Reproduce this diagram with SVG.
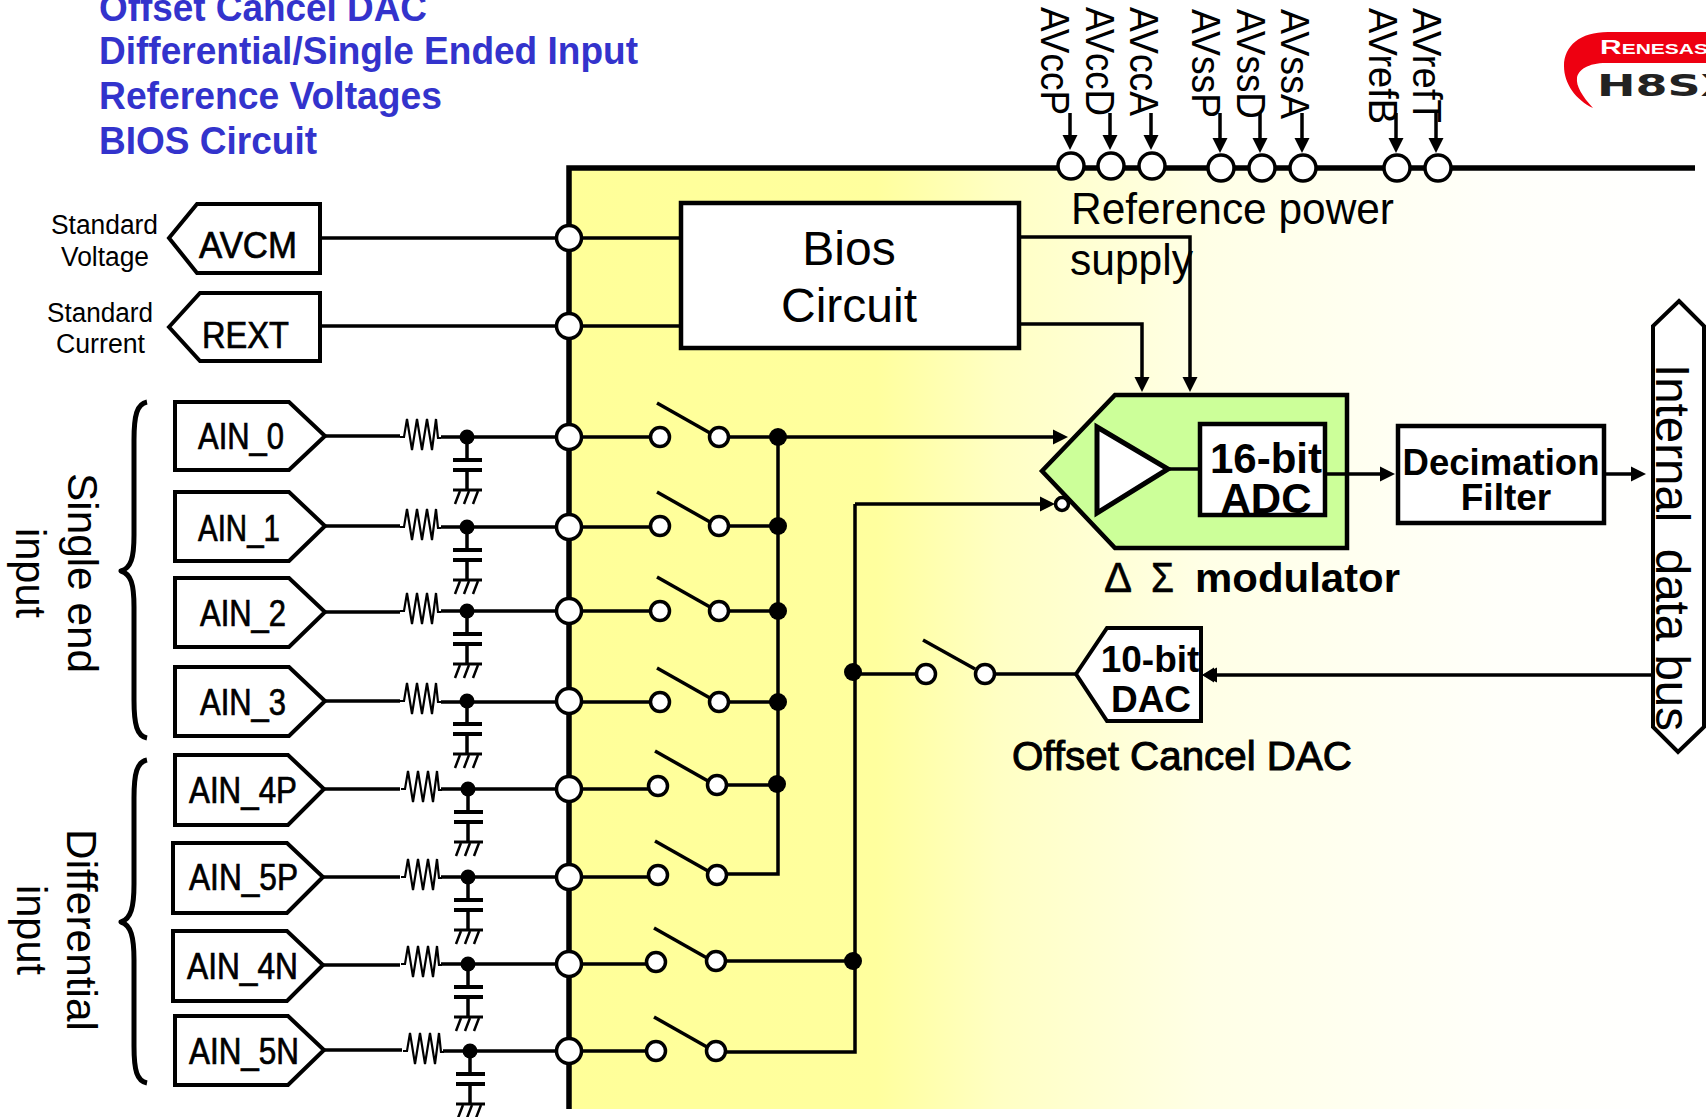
<svg xmlns="http://www.w3.org/2000/svg" width="1706" height="1117" viewBox="0 0 1706 1117">
<style>
text{font-family:"Liberation Sans",Arial,sans-serif;fill:#000}
.w{fill:none;stroke:#000;stroke-width:3.5}
.bus{fill:none;stroke:#000;stroke-width:5.5}
.arr{marker-end:url(#ah)}
.box{fill:#fff;stroke:#000;stroke-width:4.5}
.pad{fill:#fff;stroke:#000;stroke-width:4}
.c{fill:#fff;stroke:#000;stroke-width:3.5}
.dot{fill:#000}
.tag{font-size:36px;stroke:#000;stroke-width:.7}
.blue{font-size:39px;font-weight:bold;fill:#3333cc}
.b{font-weight:bold}
.pin{font-size:40px}
.side{font-size:43px}
.small{font-size:27px}
.mid{text-anchor:middle}
.brace{fill:none;stroke:#000;stroke-width:5;stroke-linejoin:round;stroke-linecap:butt}
</style>
<defs>
<linearGradient id="bg" gradientUnits="userSpaceOnUse" x1="569" y1="0" x2="1706" y2="0">
<stop offset="0" stop-color="#ffff99"/><stop offset=".27" stop-color="#ffff9e"/><stop offset=".38" stop-color="#ffffc4"/><stop offset=".56" stop-color="#ffffe6"/><stop offset=".82" stop-color="#fffffa"/><stop offset="1" stop-color="#ffffff"/>
</linearGradient>
<marker id="ah" markerUnits="userSpaceOnUse" markerWidth="16" markerHeight="16" refX="7" refY="8" orient="auto"><path d="M0 0.5L15 8L0 15.5Z"/></marker>
<g id="rc">
<path d="M400 0L404 0L407 -18L412 13L417 -18L422 13L427 -18L432 13L436 -18L438 1L441 1" fill="none" stroke="#000" stroke-width="2.2"/>
<path d="M467 0V23M467 33V53" class="w"/>
<path d="M453 23H482M453 33H482" fill="none" stroke="#000" stroke-width="4"/>
<path d="M453 53H482" fill="none" stroke="#000" stroke-width="3"/>
<path d="M460 54L455 67M469 54L464 67M478 54L473 67" fill="none" stroke="#000" stroke-width="2.5"/>
<circle cx="467" cy="0" r="7.5" class="dot"/>
</g>
<g id="sw">
<path d="M657 -34L710 -4" class="w"/>
</g>
</defs>

<g id="background">
<rect x="569" y="168" width="1137" height="941" fill="url(#bg)"/>
</g>

<g id="connectors">
<path class="bus" d="M569 1109V168H1695"/>
<path class="w" d="M320 238H681M320 326H681"/>
<path class="w" d="M325 436H400M441 437H660M325 526H400M441 527H660M325 612H400M441 611H660M325 701H400M441 702H660M324 789H400M441 789H658M323 877H400M441 877H658M323 965H400M441 964H656M325 1050H402M443 1051H656"/>
<path class="w" d="M719 437H778M719 526H778M719 611H778M719 702H778M717 785H778M717 874H778V437"/>
<path class="w" d="M716 961H855M716 1052H855V504"/>
<path class="w arr" d="M778 437H1060"/>
<path class="w arr" d="M855 504H1047"/>
<path class="w" d="M855 674H926M985 674H1076"/>
<path class="w arr" d="M1653 675H1210"/>
<path class="w arr" d="M1604 474H1638"/>
<path class="w arr" d="M1019 324H1142V384"/>
<path class="w arr" d="M1019 237H1190V384"/>
<path class="w arr" d="M1070 113V142"/>
<path class="w arr" d="M1110 113V142"/>
<path class="w arr" d="M1151 113V142"/>
<path class="w arr" d="M1220 113V145"/>
<path class="w arr" d="M1260 113V145"/>
<path class="w arr" d="M1302 113V145"/>
<path class="w arr" d="M1396 113V145"/>
<path class="w arr" d="M1436 113V145"/>
</g>

<g id="heading">
<text class="blue" x="99" y="21" textLength="328" lengthAdjust="spacingAndGlyphs">Offset Cancel DAC</text>
<text class="blue" x="99" y="64" textLength="539" lengthAdjust="spacingAndGlyphs">Differential/Single Ended Input</text>
<text class="blue" x="99" y="109" textLength="343" lengthAdjust="spacingAndGlyphs">Reference Voltages</text>
<text class="blue" x="99" y="154" textLength="218" lengthAdjust="spacingAndGlyphs">BIOS Circuit</text>
</g>

<g id="logo">
<path d="M1706 32H1608C1580 32 1564 46 1564 66C1564 84 1576 100 1593 108C1582 96 1576 86 1577 78C1578 70 1588 63 1606 63H1706Z" fill="#ee0011"/>
<text transform="translate(1600 54) scale(1.5 1)" font-size="14" font-weight="bold" style="fill:#fff"><tspan font-size="20">R</tspan>ENESAS</text>
<text x="1597" y="96" textLength="139" lengthAdjust="spacingAndGlyphs" font-size="30" font-weight="bold" style="font-family:'DejaVu Sans',sans-serif;fill:#222">H8SX</text>
</g>

<g id="pin-labels">
<text class="pin" transform="translate(1041 7) rotate(90)" textLength="108" lengthAdjust="spacingAndGlyphs">AVccP</text>
<text class="pin" transform="translate(1086 7) rotate(90)" textLength="109" lengthAdjust="spacingAndGlyphs">AVccD</text>
<text class="pin" transform="translate(1130 7) rotate(90)" textLength="109" lengthAdjust="spacingAndGlyphs">AVccA</text>
<text class="pin" transform="translate(1192 9) rotate(90)" textLength="109" lengthAdjust="spacingAndGlyphs">AVssP</text>
<text class="pin" transform="translate(1237 9) rotate(90)" textLength="110" lengthAdjust="spacingAndGlyphs">AVssD</text>
<text class="pin" transform="translate(1281 9) rotate(90)" textLength="110" lengthAdjust="spacingAndGlyphs">AVssA</text>
<text class="pin" transform="translate(1369 8) rotate(90)" textLength="116" lengthAdjust="spacingAndGlyphs">AVrefB</text>
<text class="pin" transform="translate(1413 8) rotate(90)" textLength="115" lengthAdjust="spacingAndGlyphs">AVrefT</text>
</g>

<g id="power-pins">
<circle class="c" cx="1071" cy="166" r="13"/><circle class="c" cx="1111" cy="166" r="13"/><circle class="c" cx="1152" cy="166" r="13"/>
<circle class="c" cx="1221" cy="168" r="13"/><circle class="c" cx="1262" cy="168" r="13"/><circle class="c" cx="1303" cy="168" r="13"/>
<circle class="c" cx="1397" cy="168" r="13"/><circle class="c" cx="1438" cy="168" r="13"/>
</g>

<g id="reference-power">
<text x="1071" y="224" font-size="44" textLength="323" lengthAdjust="spacingAndGlyphs">Reference power</text>
<text x="1070" y="275" font-size="44" textLength="123" lengthAdjust="spacingAndGlyphs">supply</text>
</g>

<g id="avcm">
<path class="pad" d="M169 238L197 204H320V273H197Z"/>
<text class="tag" x="199" y="258" textLength="98" lengthAdjust="spacingAndGlyphs">AVCM</text>
<text class="small" x="51" y="234" textLength="107" lengthAdjust="spacingAndGlyphs">Standard</text>
<text class="small" x="61" y="266" textLength="88" lengthAdjust="spacingAndGlyphs">Voltage</text>
</g>
<g id="rext">
<path class="pad" d="M169 327L200 293H320V361H200Z"/>
<text class="tag" x="202" y="348" textLength="87" lengthAdjust="spacingAndGlyphs">REXT</text>
<text class="small" x="47" y="322" textLength="106" lengthAdjust="spacingAndGlyphs">Standard</text>
<text class="small" x="56" y="353" textLength="89" lengthAdjust="spacingAndGlyphs">Current</text>
</g>
<g id="bus-pins-top"><circle class="c" cx="569" cy="238" r="12.5"/><circle class="c" cx="569" cy="326" r="12.5"/></g>

<g id="bios">
<rect class="box" x="681" y="203" width="338" height="145"/>
<text class="mid" x="849" y="265" font-size="48">Bios</text>
<text class="mid" x="849" y="322" font-size="48">Circuit</text>
</g>

<g id="single-end-brace">
<path class="brace" d="M147 402C137 404 134 415 134 440V535C134 558 131 568 121 571C131 574 134 584 134 607V700C134 725 137 736 147 738"/>
<text class="side" transform="translate(68 473) rotate(90)" textLength="200" lengthAdjust="spacingAndGlyphs">Single end</text>
<text class="side" transform="translate(16 528) rotate(90)" textLength="90" lengthAdjust="spacingAndGlyphs">input</text>
</g>
<g id="differential-brace">
<path class="brace" d="M147 760C137 762 134 773 134 798V884C134 907 131 919 121 922C131 925 134 937 134 960V1046C134 1071 137 1081 147 1083"/>
<text class="side" transform="translate(67 829) rotate(90)" textLength="202" lengthAdjust="spacingAndGlyphs">Differential</text>
<text class="side" transform="translate(17 885) rotate(90)" textLength="90" lengthAdjust="spacingAndGlyphs">input</text>
</g>

<g id="ain-0"><path class="pad" d="M175 402H289L325 436L289 470H175Z"/><text class="tag" x="198" y="449" textLength="86" lengthAdjust="spacingAndGlyphs">AIN_0</text><use href="#rc" y="437"/><circle class="c" cx="569" cy="437" r="12.5"/></g>
<g id="ain-1"><path class="pad" d="M175 492H289L325 526L289 561H175Z"/><text class="tag" x="198" y="541" textLength="82" lengthAdjust="spacingAndGlyphs">AIN_1</text><use href="#rc" y="527"/><circle class="c" cx="569" cy="527" r="12.5"/></g>
<g id="ain-2"><path class="pad" d="M175 578H289L325 612L289 647H175Z"/><text class="tag" x="200" y="626" textLength="86" lengthAdjust="spacingAndGlyphs">AIN_2</text><use href="#rc" y="611"/><circle class="c" cx="569" cy="611" r="12.5"/></g>
<g id="ain-3"><path class="pad" d="M175 667H289L325 701L289 736H175Z"/><text class="tag" x="200" y="715" textLength="86" lengthAdjust="spacingAndGlyphs">AIN_3</text><use href="#rc" y="701"/><circle class="c" cx="569" cy="701" r="12.5"/></g>
<g id="ain-4p"><path class="pad" d="M175 755H288L324 789L288 825H175Z"/><text class="tag" x="189" y="803" textLength="108" lengthAdjust="spacingAndGlyphs">AIN_4P</text><use href="#rc" x="1" y="789"/><circle class="c" cx="569" cy="789" r="12.5"/></g>
<g id="ain-5p"><path class="pad" d="M173 843H287L323 877L287 913H173Z"/><text class="tag" x="189" y="890" textLength="109" lengthAdjust="spacingAndGlyphs">AIN_5P</text><use href="#rc" x="1" y="877"/><circle class="c" cx="569" cy="877" r="12.5"/></g>
<g id="ain-4n"><path class="pad" d="M173 931H287L323 965L287 1001H173Z"/><text class="tag" x="187" y="979" textLength="111" lengthAdjust="spacingAndGlyphs">AIN_4N</text><use href="#rc" x="1" y="964"/><circle class="c" cx="569" cy="964" r="12.5"/></g>
<g id="ain-5n"><path class="pad" d="M175 1016H288L324 1050L288 1085H175Z"/><text class="tag" x="189" y="1064" textLength="110" lengthAdjust="spacingAndGlyphs">AIN_5N</text><use href="#rc" x="3" y="1051"/><circle class="c" cx="569" cy="1051" r="12.5"/></g>

<g id="switch-0"><use href="#sw" y="437"/><circle class="c" cx="660" cy="437" r="9.5"/><circle class="c" cx="719" cy="437" r="9.5"/></g>
<g id="switch-1"><use href="#sw" y="526"/><circle class="c" cx="660" cy="526" r="9.5"/><circle class="c" cx="719" cy="526" r="9.5"/></g>
<g id="switch-2"><use href="#sw" y="611"/><circle class="c" cx="660" cy="611" r="9.5"/><circle class="c" cx="719" cy="611" r="9.5"/></g>
<g id="switch-3"><use href="#sw" y="702"/><circle class="c" cx="660" cy="702" r="9.5"/><circle class="c" cx="719" cy="702" r="9.5"/></g>
<g id="switch-4"><use href="#sw" x="-2" y="785"/><circle class="c" cx="658" cy="786" r="9.5"/><circle class="c" cx="717" cy="785" r="9.5"/></g>
<g id="switch-5"><use href="#sw" x="-2" y="875"/><circle class="c" cx="658" cy="875" r="9.5"/><circle class="c" cx="717" cy="875" r="9.5"/></g>
<g id="switch-6"><use href="#sw" x="-3" y="962"/><circle class="c" cx="656" cy="962" r="9.5"/><circle class="c" cx="716" cy="961" r="9.5"/></g>
<g id="switch-7"><use href="#sw" x="-3" y="1051"/><circle class="c" cx="656" cy="1051" r="9.5"/><circle class="c" cx="716" cy="1051" r="9.5"/></g>
<g id="switch-dac"><path class="w" d="M923 640L975 669"/><circle class="c" cx="926" cy="674" r="9.5"/><circle class="c" cx="985" cy="674" r="9.5"/></g>

<g id="junctions">
<circle class="dot" cx="778" cy="437" r="9"/><circle class="dot" cx="778" cy="526" r="9"/><circle class="dot" cx="778" cy="611" r="9"/><circle class="dot" cx="778" cy="702" r="9"/><circle class="dot" cx="777" cy="784" r="9"/>
<circle class="dot" cx="853" cy="961" r="9"/><circle class="dot" cx="853" cy="672" r="9"/>
</g>

<g id="modulator">
<path d="M1042 471L1115 395H1347V548H1115Z" fill="#ccff99" stroke="#000" stroke-width="4.5"/>
<path d="M1097 427L1168 469L1097 513Z" fill="#fff" stroke="#000" stroke-width="5"/>
<circle class="c" cx="1062" cy="504" r="6.5"/>
<rect class="box" x="1200" y="424" width="125" height="91"/>
<path class="w" d="M1168 469H1200"/>
<text class="b mid" x="1266" y="473" font-size="42">16-bit</text>
<text class="b mid" x="1266" y="513" font-size="42">ADC</text>
<path class="w arr" d="M1325 474H1387"/>
<text x="1104" y="592" font-size="42" textLength="28" lengthAdjust="spacingAndGlyphs" stroke="#000" stroke-width=".6">Δ</text>
<text x="1151" y="592" font-size="42" textLength="23" lengthAdjust="spacingAndGlyphs" stroke="#000" stroke-width=".6">Σ</text>
<text class="b" x="1195" y="592" font-size="41" textLength="205" lengthAdjust="spacingAndGlyphs">modulator</text>
</g>

<g id="decimation-filter">
<rect class="box" x="1398" y="426" width="206" height="97"/>
<text class="b mid" x="1501" y="475" font-size="37" textLength="197" lengthAdjust="spacingAndGlyphs">Decimation</text>
<text class="b mid" x="1506" y="510" font-size="37">Filter</text>
</g>

<g id="dac">
<path class="pad" d="M1076 674L1107 628H1201V721H1107Z"/>
<text class="b mid" x="1150" y="672" font-size="37">10-bit</text>
<text class="b mid" x="1151" y="712" font-size="37">DAC</text>
<text x="1012" y="770" font-size="41" textLength="340" lengthAdjust="spacingAndGlyphs" stroke="#000" stroke-width="1">Offset Cancel DAC</text>
</g>
<path d="M1214 667.5L1202 675L1214 682.5Z"/>

<g id="internal-data-bus">
<path class="pad" d="M1679 301L1704 326V727L1678 752L1653 727V326Z"/>
<text transform="translate(1656 364) rotate(90)" font-size="48" textLength="367" lengthAdjust="spacingAndGlyphs" xml:space="preserve">Internal  data bus</text>
</g>
</svg>
